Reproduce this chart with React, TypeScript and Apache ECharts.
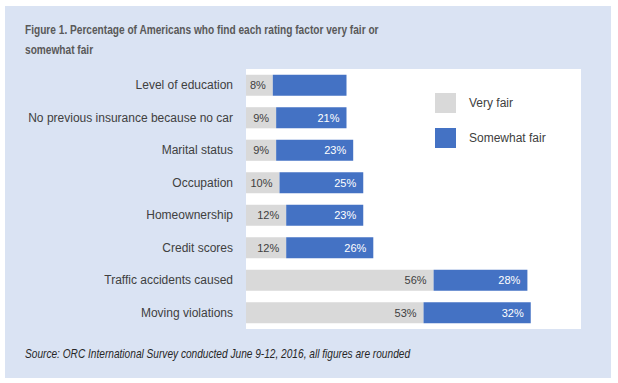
import React, { useEffect, useRef } from "react";
import * as echarts from "echarts";

const categories = [
  "Level of education",
  "No previous insurance because no car",
  "Marital status",
  "Occupation",
  "Homeownership",
  "Credit scores",
  "Traffic accidents caused",
  "Moving violations",
];
const veryFair = [8, 9, 9, 10, 12, 12, 56, 53];
const somewhatFair = [22, 21, 23, 25, 23, 26, 28, 32];
const hiddenSomewhatLabels = [true, false, false, false, false, false, false, false];
const titleLines = [
  "Figure 1. Percentage of Americans who find each rating factor very fair or",
  "somewhat fair",
];
const sourceText =
  "Source: ORC International Survey conducted June 9-12, 2016, all figures are rounded";

const FONT = "'Liberation Sans', Arial, sans-serif";

export default function App() {
  const ref = useRef<HTMLDivElement>(null);
  useEffect(() => {
    document.body.style.margin = "0";
    const chart = echarts.init(ref.current!, null, { renderer: "svg" });
    chart.setOption({
      animation: false,
      backgroundColor: "#ffffff",
      textStyle: { fontFamily: FONT },
      graphic: [
        {
          type: "rect",
          z: -10,
          shape: { x: 5, y: 6, width: 606, height: 372 },
          style: { fill: "#dae3f3" },
        },
        {
          type: "text",
          x: 25,
          y: 19,
          scaleX: 0.78,
          style: {
            text: titleLines.join("\n"),
            font: "bold 13px " + FONT,
            fill: "#595959",
            lineHeight: 20,
          },
        },
        {
          type: "text",
          x: 25,
          y: 348,
          scaleX: 0.845,
          style: {
            text: sourceText,
            font: "italic 12px " + FONT,
            fill: "#262626",
          },
        },
      ],
      grid: {
        left: 246,
        top: 69,
        width: 335,
        height: 260,
        show: true,
        backgroundColor: "#ffffff",
        borderWidth: 0,
      },
      legend: {
        orient: "vertical",
        left: 430,
        top: 88,
        itemWidth: 21,
        itemHeight: 20,
        itemGap: 15,
        icon: "rect",
        textStyle: { color: "#404040", fontSize: 12, fontFamily: FONT, padding: [0, 0, 0, 8] },
        data: ["Very fair", "Somewhat fair"],
      },
      xAxis: {
        type: "value",
        min: 0,
        max: 100,
        show: false,
      },
      yAxis: {
        type: "category",
        data: categories,
        inverse: true,
        axisLine: { show: false },
        axisTick: { show: false },
        axisLabel: { color: "#404040", fontSize: 12, fontFamily: FONT, margin: 13 },
      },
      series: [
        {
          name: "Very fair",
          type: "bar",
          stack: "total",
          barWidth: "65%",
          itemStyle: { color: "#d9d9d9" },
          label: {
            show: true,
            position: "insideRight",
            distance: 7,
            formatter: "{c}%",
            color: "#404040",
            fontSize: 11,
            fontFamily: FONT,
          },
          data: veryFair,
        },
        {
          name: "Somewhat fair",
          type: "bar",
          stack: "total",
          barWidth: "65%",
          itemStyle: { color: "#4472c4" },
          label: {
            show: true,
            position: "insideRight",
            distance: 7,
            formatter: "{c}%",
            color: "#ffffff",
            fontSize: 11,
            fontFamily: FONT,
          },
          data: somewhatFair.map((v, i) =>
            hiddenSomewhatLabels[i] ? { value: v, label: { show: false } } : v
          ),
        },
      ],
    });
    return () => chart.dispose();
  }, []);
  return <div ref={ref} style={{ width: 618, height: 383 }} />;
}
